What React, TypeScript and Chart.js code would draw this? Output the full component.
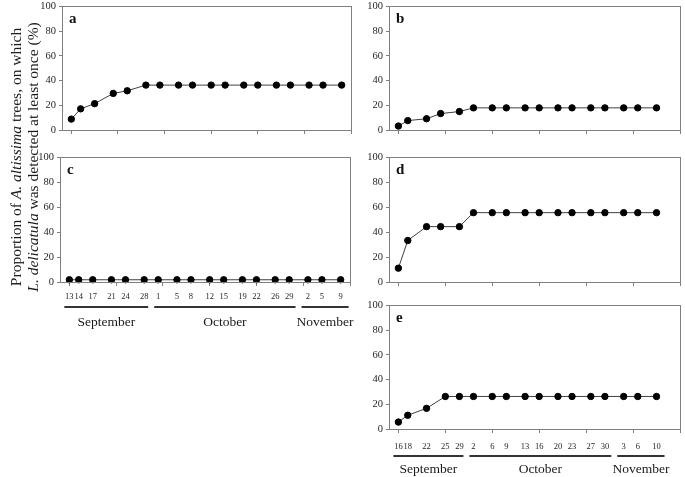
import { useEffect, useRef } from "react";
import { Chart, registerables } from "chart.js";

Chart.register(...registerables);

// ---------- data ----------
const leftDates = ["09-12", "09-14", "09-17", "09-21", "09-24", "09-28", "10-01", "10-05", "10-08", "10-12", "10-15", "10-19", "10-22", "10-26", "10-29", "11-02", "11-05", "11-09"];
const leftDayLabels = ["13", "14", "17", "21", "24", "28", "1", "5", "8", "12", "15", "19", "22", "26", "29", "2", "5", "9"];

const rightDates = ["09-16", "09-18", "09-22", "09-25", "09-29", "10-02", "10-06", "10-09", "10-13", "10-16", "10-20", "10-23", "10-27", "10-30", "11-03", "11-06", "11-10"];
const eDates = ["09-16", "09-18", "09-22", "09-26", "09-29", "10-02", "10-06", "10-09", "10-13", "10-16", "10-20", "10-23", "10-27", "10-30", "11-03", "11-06", "11-10"];
const rightDayLabels = ["16", "18", "22", "25", "29", "2", "6", "9", "13", "16", "20", "23", "27", "30", "3", "6", "10"];

const monthNames = ["September", "October", "November"];

const seriesA = [8.8, 17.1, 21.3, 29.6, 31.7, 36.3, 36.3, 36.3, 36.3, 36.3, 36.3, 36.3, 36.3, 36.3, 36.3, 36.3, 36.3, 36.3];
const seriesB = [3.2, 7.6, 9.1, 13.3, 14.9, 17.9, 17.9, 17.9, 17.9, 17.9, 17.9, 17.9, 17.9, 17.9, 17.9, 17.9, 17.9];
const seriesC = [1.8, 1.8, 1.8, 1.8, 1.8, 1.8, 1.8, 1.8, 1.8, 1.8, 1.8, 1.8, 1.8, 1.8, 1.8, 1.8, 1.8, 1.8];
const seriesD = [11.1, 33.3, 44.4, 44.4, 44.4, 55.6, 55.6, 55.6, 55.6, 55.6, 55.6, 55.6, 55.6, 55.6, 55.6, 55.6, 55.6];
const seriesE = [5.6, 11.1, 16.7, 26.3, 26.3, 26.3, 26.3, 26.3, 26.3, 26.3, 26.3, 26.3, 26.3, 26.3, 26.3, 26.3, 26.3];

const yMin = 0;
const yMax = 100;
const yStep = 20;
const xMinDays = -2;
const xMaxDays = 60;
const xStepDays = 10;

// ---------- helpers ----------
const FONT = "'Liberation Serif', 'Times New Roman', serif";
const AXIS = "#808080";
const TEXT = "#262626";

function toDays(dates: string[]): number[] {
  const parse = (s: string) => {
    const [m, d] = s.split("-").map(Number);
    return Date.UTC(2013, m - 1, d);
  };
  const t0 = parse(dates[0]);
  return dates.map((s) => Math.round((parse(s) - t0) / 86400000));
}

type Area = { left: number; top: number; right: number; bottom: number };

type PanelProps = {
  letter: string;
  dates: string[];
  values: number[];
  area: Area;
  dayLabels?: string[];
  offs?: [number, number, number];
};

const Y_W = 40;
const PAD_T = 8;
const PAD_R = 2;

function Panel({ letter, dates, values, area, dayLabels, offs }: PanelProps) {
  const ref = useRef<HTMLCanvasElement | null>(null);
  const xH = dayLabels ? 50 : 10;
  const w = area.right - area.left + Y_W + PAD_R;
  const h = area.bottom - area.top + PAD_T + xH;

  useEffect(() => {
    if (!ref.current) return;
    const days = toDays(dates);
    const plugin = {
      id: "panelDecor",
      afterDraw(chart: any) {
        const { ctx, chartArea } = chart;
        const xs = chart.scales.x;
        ctx.save();
        ctx.strokeStyle = AXIS;
        ctx.lineWidth = 1;
        ctx.strokeRect(
          Math.round(chartArea.left) + 0.5,
          Math.round(chartArea.top) + 0.5,
          Math.round(chartArea.right - chartArea.left),
          Math.round(chartArea.bottom - chartArea.top)
        );
        // panel letter
        ctx.fillStyle = "#111";
        ctx.font = `bold 15px ${FONT}`;
        ctx.textAlign = "left";
        ctx.textBaseline = "middle";
        ctx.fillText(letter, chartArea.left + 7, chartArea.top + 13);

        if (dayLabels && offs) {
          const [dOff, lOff, mOff] = offs;
          const px = days.map((d) => xs.getPixelForValue(d));
          ctx.fillStyle = TEXT;
          ctx.font = `8.5px ${FONT}`;
          ctx.textAlign = "center";
          dayLabels.forEach((lab, i) => {
            ctx.fillText(lab, px[i], chartArea.bottom + dOff);
          });
          // group by month
          const groups: number[][] = [];
          let cur = "";
          dates.forEach((s, i) => {
            const m = s.split("-")[0];
            if (m !== cur) {
              groups.push([]);
              cur = m;
            }
            groups[groups.length - 1].push(i);
          });
          ctx.strokeStyle = "#333";
          ctx.lineWidth = 2;
          groups.forEach((g, gi) => {
            const first = px[g[0]];
            const last = px[g[g.length - 1]];
            const start = gi === 0 ? first - 5 : (px[groups[gi - 1][groups[gi - 1].length - 1]] + first) / 2 + 3;
            const end = gi === groups.length - 1 ? last + 8 : (last + px[groups[gi + 1][0]]) / 2 - 3;
            const y = chartArea.bottom + lOff;
            ctx.beginPath();
            ctx.moveTo(start, y);
            ctx.lineTo(end, y);
            ctx.stroke();
            ctx.fillStyle = "#1a1a1a";
            ctx.font = `13.5px ${FONT}`;
            ctx.fillText(monthNames[gi], (start + end) / 2, chartArea.bottom + mOff);
          });
        }
        ctx.restore();
      },
    };

    const chart = new Chart(ref.current, {
      type: "line",
      data: {
        datasets: [
          {
            data: days.map((x, i) => ({ x, y: values[i] })),
            borderColor: "#404040",
            borderWidth: 1,
            pointRadius: 3.2,
            pointBackgroundColor: "#000",
            pointBorderColor: "#000",
            pointBorderWidth: 1,
            tension: 0,
            clip: false as any,
          },
        ],
      },
      options: {
        animation: false,
        responsive: false,
        maintainAspectRatio: false,
        events: [],
        layout: { padding: { top: PAD_T, right: PAD_R, left: 0, bottom: 0 } },
        plugins: { legend: { display: false }, tooltip: { enabled: false } },
        scales: {
          x: {
            type: "linear",
            min: xMinDays,
            max: xMaxDays,
            ticks: { display: false, stepSize: xStepDays, includeBounds: false },
            grid: { drawOnChartArea: false, drawTicks: true, tickLength: 4, color: AXIS },
            border: { color: AXIS },
            afterFit(s: any) {
              s.height = xH;
            },
          },
          y: {
            min: yMin,
            max: yMax,
            ticks: { stepSize: yStep, color: TEXT, padding: 3, font: { family: FONT, size: 10.5 } },
            grid: { drawOnChartArea: false, drawTicks: true, tickLength: 3, color: AXIS },
            border: { color: AXIS },
            afterFit(s: any) {
              s.width = Y_W;
            },
          },
        },
      } as any,
      plugins: [plugin],
    });
    return () => chart.destroy();
  }, []);

  return (
    <canvas
      ref={ref}
      width={w}
      height={h}
      style={{
        position: "absolute",
        left: area.left - Y_W,
        top: area.top - PAD_T,
        width: w,
        height: h,
      }}
    />
  );
}

export default function App() {
  return (
    <div style={{ position: "absolute", left: 0, top: 0, width: 685, height: 477, background: "#fff", overflow: "hidden" }}>
      <Panel letter="a" dates={leftDates} values={seriesA} area={{ left: 62, top: 5, right: 354, bottom: 130 }} />
      <Panel letter="b" dates={rightDates} values={seriesB} area={{ left: 389, top: 5, right: 683, bottom: 130 }} />
      <Panel
        letter="c"
        dates={leftDates}
        values={seriesC}
        area={{ left: 60, top: 156, right: 353, bottom: 282 }}
        dayLabels={leftDayLabels}
        offs={[15, 25, 40]}
      />
      <Panel letter="d" dates={rightDates} values={seriesD} area={{ left: 389, top: 156, right: 683, bottom: 282 }} />
      <Panel
        letter="e"
        dates={eDates}
        values={seriesE}
        area={{ left: 389, top: 304, right: 683, bottom: 429 }}
        dayLabels={rightDayLabels}
        offs={[18, 27, 40]}
      />
      <div
        style={{
          position: "absolute",
          left: 24 - 160,
          top: 157 - 16,
          width: 320,
          height: 32,
          lineHeight: "16.5px",
          transform: "rotate(-90deg)",
          textAlign: "center",
          whiteSpace: "nowrap",
          fontFamily: FONT,
          fontSize: 15.5,
          color: "#1a1a1a",
        }}
      >
        <div>
          Proportion of <i>A. altissima</i> trees, on which
        </div>
        <div>
          <i>L. delicatula</i> was detected at least once (%)
        </div>
      </div>
    </div>
  );
}
